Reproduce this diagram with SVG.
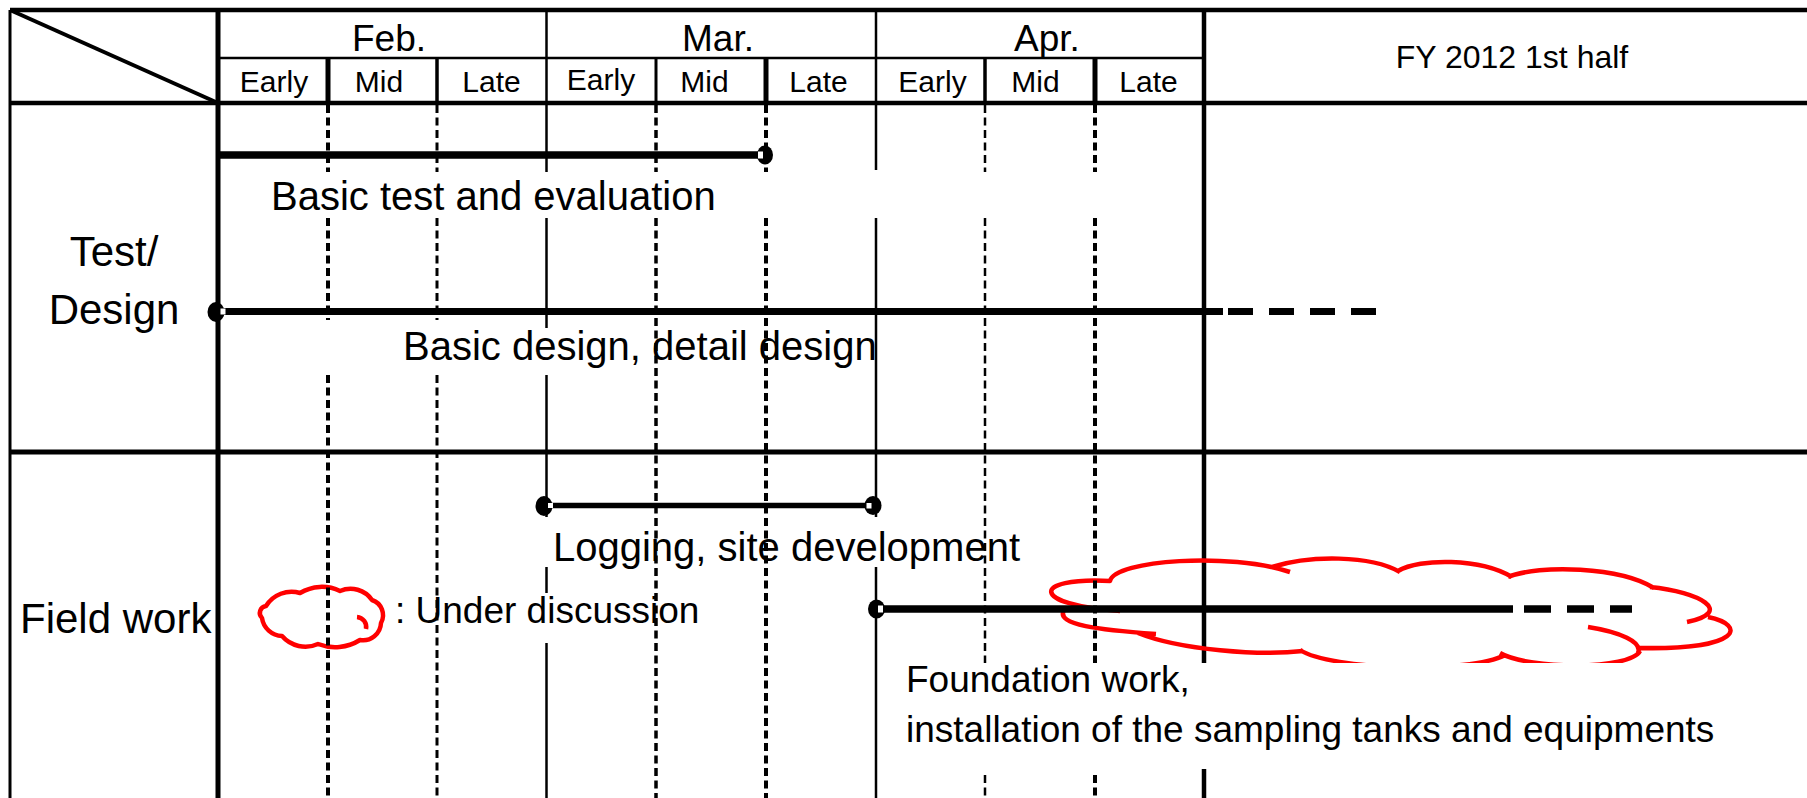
<svg xmlns="http://www.w3.org/2000/svg" width="1807" height="798" viewBox="0 0 1807 798">
<style>
.t{font-family:"Liberation Sans",Arial,sans-serif;fill:#000}
.ln{stroke:#000;fill:none}
.d{stroke:#000;fill:none;stroke-dasharray:8 4.5}
.bar{stroke:#000;fill:none}
.cloud{stroke:#ff0000;fill:none;stroke-width:4.5;stroke-linejoin:round;stroke-linecap:butt}
</style>
<rect width="1807" height="798" fill="#fff"/>
<g id="grid">
  <line class="ln" x1="10" y1="10" x2="1807" y2="10" stroke-width="4.5"/>
  <line class="ln" x1="218" y1="58" x2="1204" y2="58" stroke-width="2.5"/>
  <line class="ln" x1="10" y1="103" x2="1807" y2="103" stroke-width="4.5"/>
  <line class="ln" x1="10" y1="452" x2="1807" y2="452" stroke-width="5"/>
  <line class="ln" x1="10" y1="10" x2="10" y2="798" stroke-width="3"/>
  <line class="ln" x1="218" y1="10" x2="218" y2="798" stroke-width="5"/>
  <line class="ln" x1="10" y1="10" x2="218" y2="103" stroke-width="4"/>
  <line class="ln" x1="546.5" y1="10" x2="546.5" y2="103" stroke-width="2.5"/>
  <line class="ln" x1="876" y1="10" x2="876" y2="103" stroke-width="2.5"/>
  <line class="ln" x1="328" y1="58" x2="328" y2="103" stroke-width="5"/>
  <line class="ln" x1="437" y1="58" x2="437" y2="103" stroke-width="3.5"/>
  <line class="ln" x1="656" y1="58" x2="656" y2="103" stroke-width="3"/>
  <line class="ln" x1="766" y1="58" x2="766" y2="103" stroke-width="5"/>
  <line class="ln" x1="985" y1="58" x2="985" y2="103" stroke-width="3.5"/>
  <line class="ln" x1="1095" y1="58" x2="1095" y2="103" stroke-width="5"/>
  <line class="ln" x1="1204" y1="10" x2="1204" y2="663" stroke-width="4.5"/>
  <line class="ln" x1="1204" y1="769" x2="1204" y2="798" stroke-width="4.5"/>
</g>
<g id="clouds">
  <path id="big-cloud" class="cloud" d="M1120 611 C1030 605 1030 577 1110 581 C1115 560 1230 552 1290 572 M1272 567 C1310 555 1370 555 1400 572 M1398 571 C1420 558 1480 558 1512 577 M1508 577 C1540 564 1620 567 1654 588 M1650 587 C1700 592 1735 612 1687 622 M1708 617 C1747 625 1742 650 1640 648 M1588 627 C1620 632 1643 642 1638 653 M1640 651 C1630 670 1530 670 1500 653 M1505 655 C1470 674 1330 670 1300 650 M1303 651 C1260 656 1180 650 1138 633 M1156 634 C1100 630 1055 625 1064 610"/>
  <path id="legend-cloud" class="cloud" d="M266 606 A30 30 0 0 1 300 593 A42 42 0 0 1 340 591 A26 26 0 0 1 372 600 A16 16 0 0 1 381 623 A18 18 0 0 1 360 640 A47 47 0 0 1 318 644 A31 31 0 0 1 282 636 A21 21 0 0 1 262 618 A7 7 0 0 1 266 606 Z M357 617 A10 10 0 0 1 366 629"/>
</g>
<g id="body-lines">
  <line class="d" x1="328" y1="105" x2="328" y2="172" stroke-width="4"/>
  <line class="d" x1="328" y1="218" x2="328" y2="320" stroke-width="4"/>
  <line class="d" x1="328" y1="375" x2="328" y2="798" stroke-width="4"/>
  <line class="d" x1="437" y1="105" x2="437" y2="172" stroke-width="3"/>
  <line class="d" x1="437" y1="218" x2="437" y2="320" stroke-width="3"/>
  <line class="d" x1="437" y1="375" x2="437" y2="798" stroke-width="3"/>
  <line class="ln" x1="546.5" y1="103" x2="546.5" y2="172" stroke-width="2.5"/>
  <line class="ln" x1="546.5" y1="218" x2="546.5" y2="328" stroke-width="2.5"/>
  <line class="ln" x1="546.5" y1="375" x2="546.5" y2="517" stroke-width="2.5"/>
  <line class="ln" x1="546.5" y1="567" x2="546.5" y2="593" stroke-width="2.5"/>
  <line class="ln" x1="546.5" y1="643" x2="546.5" y2="798" stroke-width="2.5"/>
  <line class="d" x1="656" y1="105" x2="656" y2="172" stroke-width="3.5"/>
  <line class="d" x1="656" y1="218" x2="656" y2="798" stroke-width="3.5"/>
  <line class="d" x1="766" y1="105" x2="766" y2="172" stroke-width="4"/>
  <line class="d" x1="766" y1="218" x2="766" y2="798" stroke-width="4"/>
  <line class="ln" x1="876" y1="103" x2="876" y2="170" stroke-width="2.5"/>
  <line class="ln" x1="876" y1="218" x2="876" y2="517" stroke-width="2.5"/>
  <line class="ln" x1="876" y1="567" x2="876" y2="798" stroke-width="2.5"/>
  <line class="d" x1="985" y1="105" x2="985" y2="172" stroke-width="2.5"/>
  <line class="d" x1="985" y1="218" x2="985" y2="663" stroke-width="2.5"/>
  <line class="d" x1="985" y1="775" x2="985" y2="798" stroke-width="2.5"/>
  <line class="d" x1="1095" y1="105" x2="1095" y2="172" stroke-width="4"/>
  <line class="d" x1="1095" y1="218" x2="1095" y2="663" stroke-width="4"/>
  <line class="d" x1="1095" y1="775" x2="1095" y2="798" stroke-width="4"/>
</g>
<g id="connectors">
  <line class="bar" x1="218" y1="155" x2="762" y2="155" stroke-width="7.5"/>
  <ellipse cx="765" cy="155" rx="8" ry="9.5"/>
  <rect x="758" y="151.5" width="5" height="7" fill="#fff"/>

  <line class="bar" x1="218" y1="311.5" x2="1223" y2="311.5" stroke-width="7"/>
  <line class="bar" x1="1228" y1="311.5" x2="1376" y2="311.5" stroke-width="7" stroke-dasharray="25 16"/>
  <ellipse cx="216" cy="312" rx="8.5" ry="10"/>
  <rect x="220.5" y="308.5" width="5" height="6" fill="#fff"/>

  <line class="bar" x1="546" y1="505.5" x2="873" y2="505.5" stroke-width="5.5"/>
  <ellipse cx="544" cy="506" rx="8.5" ry="10"/>
  <rect x="548" y="503" width="5" height="5" fill="#fff"/>
  <ellipse cx="873" cy="505.5" rx="8.5" ry="9.5"/>
  <rect x="866.5" y="503" width="5" height="5.5" fill="#fff"/>

  <line class="bar" x1="876" y1="609" x2="1513" y2="609" stroke-width="7.5"/>
  <line class="bar" x1="1524" y1="609" x2="1632" y2="609" stroke-width="7.5" stroke-dasharray="27 16"/>
  <ellipse cx="876.5" cy="609" rx="8.5" ry="9.5"/>
  <rect x="878" y="605.5" width="5" height="7" fill="#fff"/>
</g>
<rect x="880" y="663" width="860" height="106" fill="#fff"/>
<g id="header-text" class="t">
  <text x="389" y="51" font-size="37" text-anchor="middle">Feb.</text>
  <text x="718" y="51" font-size="37" text-anchor="middle">Mar.</text>
  <text x="1047" y="51" font-size="37" text-anchor="middle">Apr.</text>
  <text x="274" y="92" font-size="30" text-anchor="middle">Early</text>
  <text x="379" y="92" font-size="30" text-anchor="middle">Mid</text>
  <text x="491.5" y="92" font-size="30" text-anchor="middle">Late</text>
  <text x="601" y="89.5" font-size="30" text-anchor="middle">Early</text>
  <text x="704.5" y="92" font-size="30" text-anchor="middle">Mid</text>
  <text x="818.5" y="92" font-size="30" text-anchor="middle">Late</text>
  <text x="932.5" y="92" font-size="30" text-anchor="middle">Early</text>
  <text x="1035.5" y="92" font-size="30" text-anchor="middle">Mid</text>
  <text x="1148.5" y="92" font-size="30" text-anchor="middle">Late</text>
  <text x="1512" y="68" font-size="32" text-anchor="middle">FY 2012 1st half</text>
</g>
<g id="row-test-design" class="t">
  <text x="114" y="266" font-size="42" text-anchor="middle">Test/</text>
  <text x="114" y="324" font-size="42" text-anchor="middle">Design</text>
</g>
<g id="row-field-work" class="t">
  <text x="20" y="633" font-size="42">Field work</text>
</g>
<g id="task-basic-test" class="t"><text x="271" y="210" font-size="40">Basic test and evaluation</text></g>
<g id="task-basic-design" class="t"><text x="403" y="360" font-size="40">Basic design, detail design</text></g>
<g id="task-logging" class="t"><text x="553" y="561" font-size="40">Logging, site development</text></g>
<g id="legend" class="t"><text x="395" y="623" font-size="37">: Under discussion</text></g>
<g id="task-foundation" class="t">
  <text x="906" y="692" font-size="37">Foundation work,</text>
  <text x="906" y="742" font-size="37">installation of the sampling tanks and equipments</text>
</g>
</svg>
